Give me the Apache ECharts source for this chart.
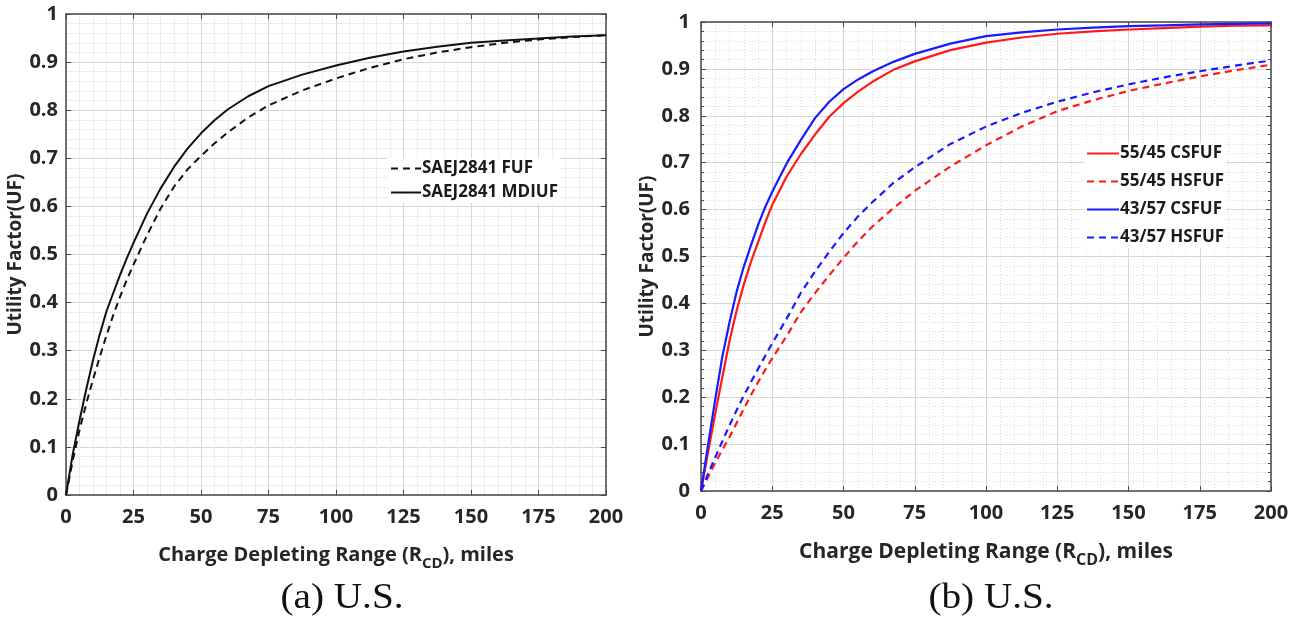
<!DOCTYPE html>
<html>
<head>
<meta charset="utf-8">
<script src="https://cdn.jsdelivr.net/npm/echarts@6/dist/echarts.min.js"></script>
<style>
html,body{margin:0;padding:0;background:#fff;}
#c{width:1303px;height:622px;}
</style>
</head>
<body>
<div id="c"></div>
<script>
// ---- data ----
const xTicks = [0, 25, 50, 75, 100, 125, 150, 175, 200];
const rangeMiles = [0, 2.5, 5, 7.5, 10, 12.5, 15, 17.5, 20, 22.5, 25, 30, 35, 40, 45, 50, 55, 60, 67.5, 75, 87.5, 100, 112.5, 125, 137.5, 150, 162.5, 175, 187.5, 200];

// (a) U.S.
const saeFUF   = [0, 0.072, 0.135, 0.19, 0.24, 0.287, 0.332, 0.374, 0.412, 0.447, 0.479, 0.54, 0.595, 0.641, 0.677, 0.705, 0.731, 0.754, 0.785, 0.81, 0.841, 0.866, 0.888, 0.906, 0.92, 0.931, 0.94, 0.947, 0.952, 0.956];
const saeMDIUF = [0, 0.085, 0.155, 0.22, 0.28, 0.334, 0.382, 0.42, 0.457, 0.492, 0.524, 0.585, 0.637, 0.682, 0.72, 0.752, 0.779, 0.802, 0.829, 0.85, 0.874, 0.893, 0.909, 0.922, 0.932, 0.94, 0.945, 0.949, 0.953, 0.956];

// (b) U.S.
const cs5545 = [0, 0.083, 0.165, 0.243, 0.32, 0.385, 0.44, 0.488, 0.53, 0.572, 0.61, 0.67, 0.718, 0.76, 0.798, 0.827, 0.851, 0.872, 0.898, 0.916, 0.94, 0.956, 0.967, 0.975, 0.98, 0.984, 0.987, 0.99, 0.992, 0.993];
const hs5545 = [0, 0.03, 0.06, 0.088, 0.115, 0.145, 0.175, 0.204, 0.232, 0.258, 0.283, 0.33, 0.381, 0.422, 0.46, 0.497, 0.532, 0.563, 0.603, 0.64, 0.692, 0.737, 0.777, 0.81, 0.833, 0.853, 0.869, 0.884, 0.897, 0.909];
const cs4357 = [0, 0.1, 0.195, 0.287, 0.36, 0.425, 0.478, 0.523, 0.567, 0.605, 0.638, 0.698, 0.748, 0.795, 0.83, 0.857, 0.877, 0.894, 0.915, 0.932, 0.954, 0.97, 0.978, 0.984, 0.988, 0.991, 0.993, 0.995, 0.996, 0.997];
const hs4357 = [0, 0.037, 0.072, 0.106, 0.14, 0.172, 0.203, 0.232, 0.26, 0.288, 0.315, 0.367, 0.422, 0.468, 0.51, 0.55, 0.585, 0.615, 0.657, 0.69, 0.74, 0.777, 0.806, 0.83, 0.85, 0.867, 0.882, 0.895, 0.907, 0.918];

const seriesNames = ['SAEJ2841 FUF', 'SAEJ2841 MDIUF', '55/45 CSFUF', '55/45 HSFUF', '43/57 CSFUF', '43/57 HSFUF'];
const captions = ['(a) U.S.', '(b) U.S.'];
const xName = 'Charge Depleting Range (R{sub|CD}), miles';
const yName = 'Utility Factor(UF)';

// ---- helpers ----
const pairs = (xs, ys) => xs.map((x, i) => [x, ys[i]]);
const FONT = 'Open Sans';
const AX = '#4a4a4a';
const LBL = '#262626';

function mainX(g, dottedMinor, nameSize) {
  return {
    type: 'value', gridIndex: g, min: xTicks[0], max: xTicks[xTicks.length - 1], interval: 25,
    position: 'bottom',
    name: xName, nameLocation: 'middle', nameGap: 45,
    nameTextStyle: {
      fontFamily: FONT, fontWeight: 'bold', fontSize: nameSize, color: LBL,
      rich: { sub: { fontFamily: FONT, fontWeight: 'bold', fontSize: nameSize - 5, color: LBL, padding: [16, 0, 0, 0] } }
    },
    axisLine: { show: true, onZero: false, lineStyle: { color: AX, width: 1.5 } },
    axisTick: { show: true, inside: true, length: 5, lineStyle: { color: AX } },
    axisLabel: { margin: 12, fontFamily: FONT, fontWeight: 'bold', fontSize: 20, color: LBL },
    splitLine: { show: true, lineStyle: { color: '#d6d6d6', width: 1 } },
    minorTick: { show: false, splitNumber: 5 },
    minorSplitLine: { show: true, lineStyle: { color: dottedMinor ? '#d9d9d9' : '#ececec', width: 1, type: dottedMinor ? [1, 2] : 'solid' } }
  };
}
function topX(g) {
  return {
    type: 'value', gridIndex: g, min: 0, max: 200, interval: 25, position: 'top',
    axisLine: { show: true, onZero: false, lineStyle: { color: AX, width: 1.5 } },
    axisTick: { show: true, inside: true, length: 5, lineStyle: { color: AX } },
    axisLabel: { show: false }, splitLine: { show: false }
  };
}
function mainY(g, dottedMinor, minorTicks) {
  return {
    type: 'value', gridIndex: g, min: 0, max: 1, interval: 0.1, position: 'left',
    name: yName, nameLocation: 'middle', nameGap: 37, nameRotate: 90,
    nameTextStyle: { fontFamily: FONT, fontWeight: 'bold', fontSize: 19, color: LBL },
    axisLine: { show: true, onZero: false, lineStyle: { color: AX, width: 1.5 } },
    axisTick: { show: true, inside: true, length: 5, lineStyle: { color: AX } },
    axisLabel: { margin: dottedMinor ? 11 : 8, fontFamily: FONT, fontWeight: 'bold', fontSize: 20, color: LBL,
      formatter: v => String(Math.round(v * 10) / 10) },
    splitLine: { show: true, lineStyle: { color: '#d6d6d6', width: 1 } },
    minorTick: { show: minorTicks, splitNumber: 5, length: 3, lineStyle: { color: AX } },
    minorSplitLine: { show: true, lineStyle: { color: dottedMinor ? '#d9d9d9' : '#ececec', width: 1, type: dottedMinor ? [1, 2] : 'solid' } }
  };
}
function rightY(g, minorTicks) {
  return {
    type: 'value', gridIndex: g, min: 0, max: 1, interval: 0.1, position: 'right',
    axisLine: { show: true, onZero: false, lineStyle: { color: AX, width: 1.5 } },
    axisTick: { show: true, inside: true, length: 5, lineStyle: { color: AX } },
    minorTick: { show: minorTicks, splitNumber: 5, length: 3, lineStyle: { color: AX } },
    axisLabel: { show: false }, splitLine: { show: false }
  };
}
function line(name, xi, yi, ys, color, dashed, width) {
  return {
    name, type: 'line', xAxisIndex: xi, yAxisIndex: yi,
    data: pairs(rangeMiles, ys), showSymbol: false, symbol: 'none',
    smooth: false, animation: false, z: 5,
    lineStyle: { color, width, type: dashed ? [7, 5] : 'solid', join: 'round' },
    itemStyle: { color }
  };
}

const chart = echarts.init(document.getElementById('c'), null, { renderer: 'canvas' });
chart.setOption({
  backgroundColor: '#fff',
  animation: false,
  graphic: [
    { type: 'text', x: 342, y: 599, scaleX: 1.12, z: 10,
      style: { text: captions[0], fontFamily: 'Liberation Serif', fontSize: 35, fontWeight: 'normal', fill: '#111', align: 'center', verticalAlign: 'middle' } },
    { type: 'text', x: 991, y: 599, scaleX: 1.12, z: 10,
      style: { text: captions[1], fontFamily: 'Liberation Serif', fontSize: 35, fontWeight: 'normal', fill: '#111', align: 'center', verticalAlign: 'middle' } }
  ],
  grid: [
    { left: 66, right: 697, top: 14, bottom: 127, containLabel: false },
    { left: 701, right: 32, top: 22, bottom: 131, containLabel: false }
  ],
  xAxis: [mainX(0, false, 20), topX(0), mainX(1, true, 21), topX(1)],
  yAxis: [mainY(0, false, false), rightY(0, false), mainY(1, true, true), rightY(1, true)],
  legend: [
    { data: [seriesNames[0], seriesNames[1]], left: 388, top: 158, orient: 'vertical',
      itemWidth: 30, itemHeight: 2, itemGap: 7, backgroundColor: '#fff', padding: [2, 2, 2, 2],
      textStyle: { fontFamily: FONT, fontWeight: 'bold', fontSize: 17, color: '#1a1a1a', padding: [0, 0, 0, -4] } },
    { data: [seriesNames[2], seriesNames[3], seriesNames[4], seriesNames[5]], left: 1084, top: 143, orient: 'vertical',
      itemWidth: 32, itemHeight: 2, itemGap: 11, backgroundColor: '#fff', padding: [2, 2, 2, 2],
      textStyle: { fontFamily: FONT, fontWeight: 'bold', fontSize: 17, color: '#1a1a1a', padding: [0, 0, 0, -4] } }
  ],
  series: [
    line(seriesNames[0], 0, 0, saeFUF, '#111', true, 2),
    line(seriesNames[1], 0, 0, saeMDIUF, '#111', false, 2),
    line(seriesNames[2], 2, 2, cs5545, '#ff1a1a', false, 2.2),
    line(seriesNames[3], 2, 2, hs5545, '#ff1a1a', true, 2.2),
    line(seriesNames[4], 2, 2, cs4357, '#1a1aff', false, 2.2),
    line(seriesNames[5], 2, 2, hs4357, '#1a1aff', true, 2.2)
  ]
});
</script>
</body>
</html>
